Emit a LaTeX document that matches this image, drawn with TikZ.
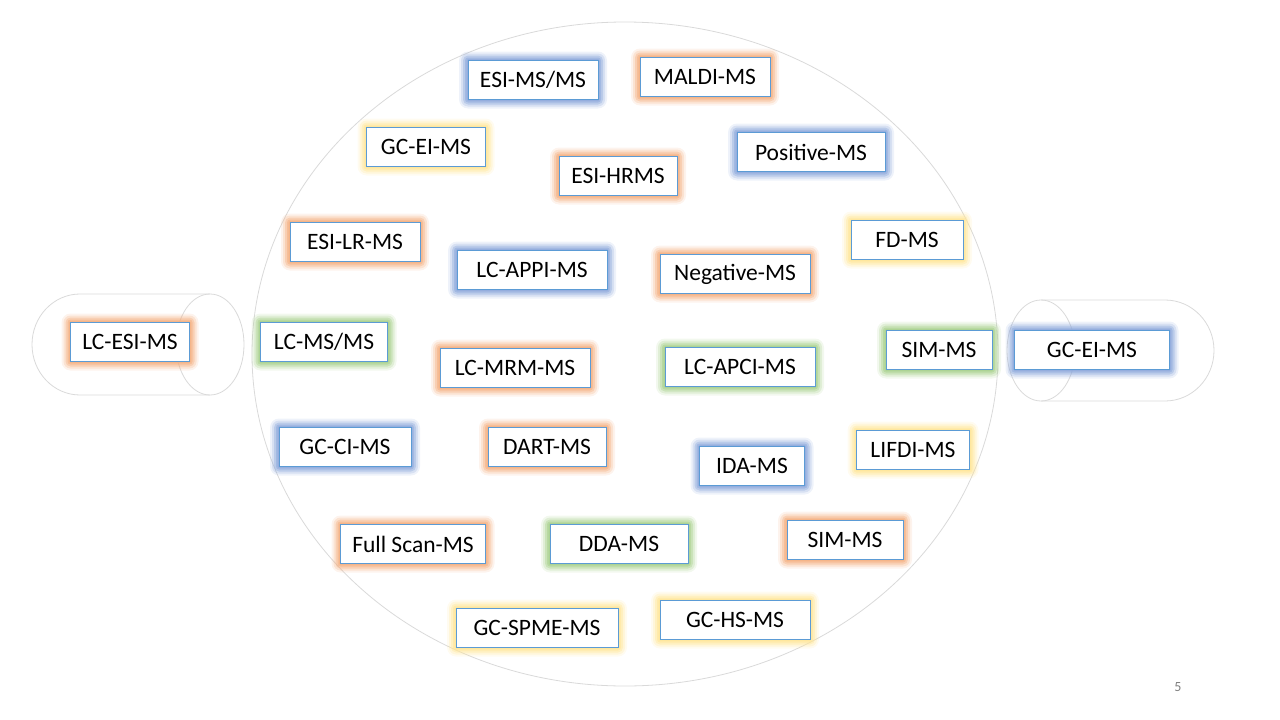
\documentclass[tikz,border=0pt]{standalone}
\usepackage{fontspec}
\setmainfont{Carlito}
\definecolor{gO}{HTML}{F4B183}
\definecolor{gG}{HTML}{A9D18E}
\definecolor{gB}{HTML}{8FAADC}
\definecolor{gY}{HTML}{FFE699}
\definecolor{bd}{HTML}{5B9BD5}
\definecolor{ln}{HTML}{D9D9D9}
\tikzset{
  lbox/.style={draw=bd,fill=white,line width=0.8pt,minimum height=39pt,inner sep=0pt,font=\fontsize{23.5}{26}\selectfont},
  shell/.style={draw=ln,line width=0.8pt}
}
\newcommand{\gbox}[6]{%
  \foreach \k/\o in {9/0.15,7/0.25,5/0.4,3/0.55,1.5/0.7}{
    \fill[#6,opacity=\o,rounded corners=\k pt] (#2-#4/2-\k,#3-19.5-\k) rectangle (#2+#4/2+\k,#3+19.5+\k);
  }
  \node[lbox,minimum width=#4 pt] (#1) at (#2,#3) {#5};
}
\begin{document}
\begin{tikzpicture}[x=1pt,y=-1pt]
\useasboundingbox (0,0) rectangle (1280,720);
% big ellipse
\draw[shell] (625,354) ellipse [x radius=373,y radius=332];
% left cylinder
\draw[shell] (210,294) -- (80,294) arc[start angle=270,end angle=90,x radius=48,y radius=50.5] -- (210,395);
\draw[shell] (210,344.5) ellipse [x radius=34,y radius=50.5];
% right cylinder
\draw[shell] (1041,300) -- (1165,300) arc[start angle=-90,end angle=90,x radius=49,y radius=50.5] -- (1041,401);
\draw[shell] (1041,350.5) ellipse [x radius=34,y radius=50.5];

\gbox{a1}{533}{80}{130}{ESI-MS/MS}{gB}
\gbox{a2}{705}{77}{130}{MALDI-MS}{gO}
\gbox{a3}{426}{147}{119}{GC-EI-MS}{gY}
\gbox{a4}{618}{176}{118}{ESI-HRMS}{gO}
\gbox{a5}{811}{152}{148}{Positive-MS}{gB}
\gbox{a6}{355}{242}{130}{ESI-LR-MS}{gO}
\gbox{a7}{532}{270}{150}{LC-APPI-MS}{gB}
\gbox{a8}{735}{274}{150}{Negative-MS}{gO}
\gbox{a9}{907}{240}{112}{FD-MS}{gY}
\gbox{b1}{130}{342}{119}{LC-ESI-MS}{gO}
\gbox{b2}{324}{342}{127}{LC-MS/MS}{gG}
\gbox{b3}{515}{368}{150}{LC-MRM-MS}{gO}
\gbox{b4}{740}{367}{150}{LC-APCI-MS}{gG}
\gbox{b5}{939}{350}{106}{SIM-MS}{gG}
\gbox{b6}{1092}{350}{155}{GC-EI-MS}{gB}
\gbox{c1}{345}{447}{132}{GC-CI-MS}{gB}
\gbox{c2}{547}{447}{118}{DART-MS}{gO}
\gbox{c3}{752}{466}{105}{IDA-MS}{gB}
\gbox{c4}{913}{450}{113}{LIFDI-MS}{gY}
\gbox{d1}{413}{544}{145}{Full Scan-MS}{gO}
\gbox{d2}{619}{544}{138}{DDA-MS}{gG}
\gbox{d3}{845}{540}{116}{SIM-MS}{gO}
\gbox{e1}{537}{628}{162}{GC-SPME-MS}{gY}
\gbox{e2}{735}{620}{150}{GC-HS-MS}{gY}
\node[text=gray,font=\fontsize{14}{16}\selectfont] (pg) at (1178,687) {5};
\end{tikzpicture}
\end{document}
